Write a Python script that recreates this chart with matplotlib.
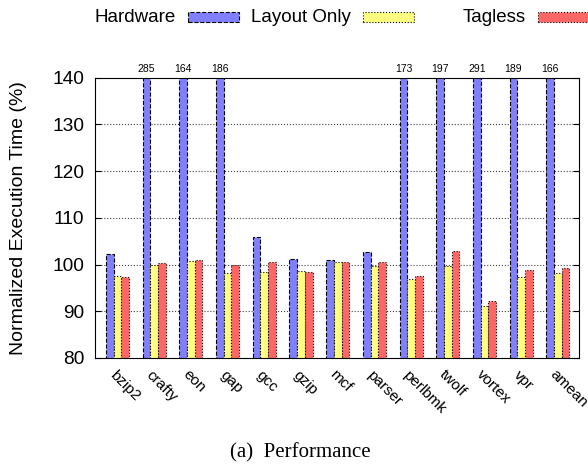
import numpy as np
import matplotlib
matplotlib.use("Agg")
import matplotlib.pyplot as plt
from matplotlib.patches import Rectangle

benchmarks = ["bzip2", "crafty", "eon", "gap", "gcc", "gzip", "mcf",
              "parser", "perlbmk", "twolf", "vortex", "vpr", "amean"]
hardware = [102.2, 285, 164, 186, 106.0, 101.1, 101.0, 102.7, 173, 197, 291, 189, 166]
layout_only = [97.6, 99.9, 100.8, 98.2, 98.4, 98.6, 100.6, 99.7, 96.9, 99.7, 91.1, 97.4, 98.2]
tagless = [97.4, 100.3, 101.0, 99.8, 100.6, 98.4, 100.6, 100.6, 97.6, 102.9, 92.1, 98.9, 99.3]

series = [
    ("Hardware", hardware, "#8080ff", "--"),
    ("Layout Only", layout_only, "#ffff80", ":"),
    ("Tagless", tagless, "#ff6666", ":"),
]

YMIN, YMAX = 80, 140
plt.rcParams["font.family"] = ["Liberation Sans", "DejaVu Sans"]

fig = plt.figure(figsize=(5.88, 4.66), dpi=100)
ax = fig.add_axes([0.162, 0.232, 0.823, 0.601])

x = np.arange(len(benchmarks))
w = 0.21
for k, (name, vals, color, ls) in enumerate(series):
    ax.bar(x + (k - 1) * w, vals, w, bottom=0, color=color,
           edgecolor="black", linewidth=0.8, linestyle=ls, zorder=2)

# values of bars that run off the top of the axis
for i, v in enumerate(hardware):
    if v > YMAX:
        ax.text(x[i] - w, YMAX + 0.8, f"{v:.0f}", ha="center", va="bottom",
                fontsize=7.5)

ax.set_ylim(YMIN, YMAX)
ax.set_xlim(-0.607, len(benchmarks) - 1 + 0.58)
ax.set_yticks(range(80, 141, 10))
ax.tick_params(axis="y", direction="in", length=4, right=True, labelsize=13.8, pad=8)
ax.set_xticks(x - 0.02)
ax.set_xticklabels(benchmarks, rotation=-45, ha="left", va="top",
                   rotation_mode="anchor", fontsize=11)
ax.tick_params(axis="x", length=0, pad=7)
ax.set_ylabel("Normalized Execution Time (%)", fontsize=14)
ax.yaxis.set_label_coords(-0.141, 0.5)

for y in range(90, 140, 10):
    ax.axhline(y, color="#444444", linestyle=":", linewidth=0.8, zorder=1)

# key across the top, text right-aligned before each sample box
for k, (name, vals, color, ls) in enumerate(series):
    bx = (188 + 175 * k) / 588
    fig.text(bx - 12 / 588, 1 - 17 / 466, name, ha="right", va="center", fontsize=13.5)
    fig.add_artist(Rectangle((bx, 1 - 21.5 / 466), 51 / 588, 9 / 466,
                             transform=fig.transFigure, facecolor=color,
                             edgecolor="black", linewidth=0.8, linestyle=ls))

fig.text(300 / 588, 1 - 453 / 466, "(a)  Performance", ha="center", va="center",
         fontsize=15, family=["Liberation Serif", "DejaVu Serif"])

fig.savefig("out.png", dpi=100)
